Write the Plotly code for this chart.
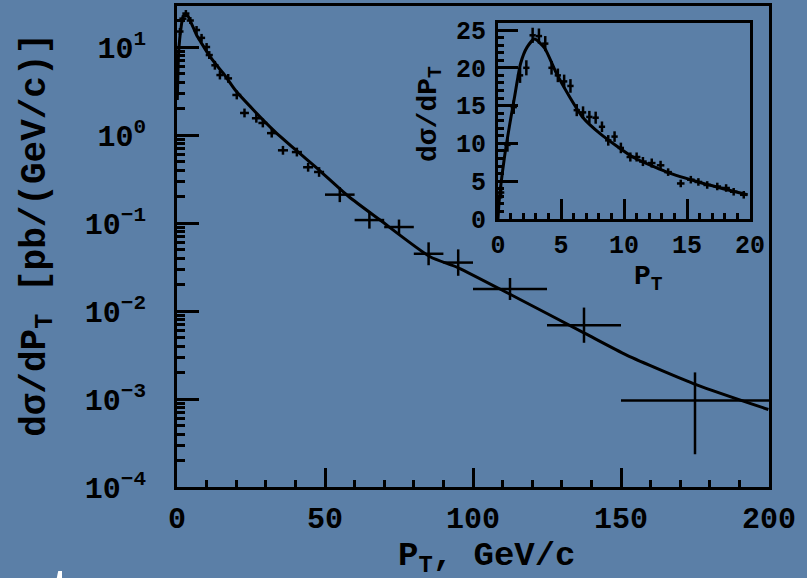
import plotly.graph_objects as go

# ---------------- data ----------------
# Main panel (log scale) measured points
main_pt = [1, 2, 3, 4.5, 6.6, 8.3, 10, 10.9, 12.8, 14.5, 17.3, 20.2, 22.8, 26.8, 29,
           32, 35.8, 40.5, 44.3, 48, 55, 65, 75, 85, 95, 112.5, 137.5, 175]
main_sigma = [15, 21, 24, 20, 15.6, 12.7, 10, 8.1, 6.2, 4.8, 4.4, 2.85, 1.78, 1.55, 1.37,
              1.05, 0.67, 0.64, 0.43, 0.38, 0.21, 0.108, 0.090, 0.0447, 0.0355, 0.0178, 0.0069, 0.00096]
main_pt_err = [1.2, 1.2, 1.2, 1.2, 1.2, 1.2, 1.2, 1.2, 1.2, 1.2, 1.3, 1.5, 1.5, 1.5, 1.5,
               1.6, 1.7, 1.7, 1.7, 1.7, 5, 5, 5, 5, 5, 12.5, 12.5, 25]
# half-length of vertical error bars, in decades (up / down)
main_dec_up = [0.04, 0.04, 0.04, 0.04, 0.045, 0.045, 0.045, 0.045, 0.05, 0.05, 0.05, 0.05, 0.05, 0.05, 0.05,
               0.05, 0.05, 0.05, 0.05, 0.055, 0.085, 0.097, 0.085, 0.13, 0.15, 0.125, 0.2, 0.32]
main_dec_dn = [0.04, 0.04, 0.04, 0.04, 0.045, 0.045, 0.045, 0.045, 0.05, 0.05, 0.05, 0.05, 0.05, 0.05, 0.05,
               0.05, 0.05, 0.05, 0.05, 0.055, 0.085, 0.097, 0.085, 0.13, 0.15, 0.125, 0.2, 0.61]

# Inset panel (linear scale) measured points
inset_pt = [0.25, 0.75, 1.25, 1.75, 2.25, 2.75, 3.25, 3.75, 4.25, 4.75, 5.25, 5.75, 6.25, 6.75,
            7.25, 7.75, 8.25, 8.75, 9.25, 9.75, 10.5, 11.0, 11.5, 12.2, 12.9, 13.5, 14.5, 15.3,
            15.9, 16.6, 17.4, 18.1, 18.7, 19.5]
inset_sigma = [3.5, 9.8, 14.8, 19.0, 20.0, 24.3, 24.2, 23.2, 20.0, 19.0, 18.2, 17.6, 14.4, 14.1,
               13.5, 13.4, 12.2, 10.4, 10.9, 9.4, 8.2, 8.2, 7.6, 7.4, 7.1, 6.2, 4.7, 5.2,
               4.9, 4.5, 4.3, 4.1, 3.6, 3.2]
inset_pt_err = [0.25] * 20 + [0.3] * 14
inset_sigma_err = [0.8, 0.9, 0.9, 1.0, 1.0, 1.0, 1.0, 1.0, 0.9, 0.9, 0.9, 0.9, 0.8, 0.8,
                   0.8, 0.8, 0.7, 0.7, 0.7, 0.7, 0.6, 0.6, 0.6, 0.6, 0.6, 0.5, 0.5, 0.5,
                   0.5, 0.5, 0.5, 0.5, 0.5, 0.5]

# Theory curve
curve_pt = [0.0, 0.1, 0.5, 0.9, 1.3, 1.8, 2.3, 2.9, 3.7, 4.6, 5.7, 6.7, 8.1, 10.7, 13.4, 16.1, 19.8,
            26, 33, 40, 48, 58, 68.6, 85.5, 95, 113, 137.8, 151.9, 175.6, 199.8]
curve_sigma = [0.0, 2.5, 8.0, 12.2, 16.0, 20.6, 22.7, 23.8, 22.6, 19.4, 16.1, 13.5, 11.3, 8.2, 6.2, 4.8, 3.2,
               1.9, 1.1, 0.68, 0.40, 0.20, 0.108, 0.0414, 0.031, 0.0152, 0.00557, 0.00316, 0.00145, 0.00076]

main_y_tickvals = [1e-4, 1e-3, 1e-2, 1e-1, 1e0, 1e1]
main_y_ticktext = ["10<sup>\u22124</sup>", "10<sup>\u22123</sup>", "10<sup>\u22122</sup>",
                   "10<sup>\u22121</sup>", "10<sup>0</sup>", "10<sup>1</sup>"]
main_x_tickvals = [0, 50, 100, 150, 200]
inset_x_tickvals = [0, 5, 10, 15, 20]
inset_y_tickvals = [0, 5, 10, 15, 20, 25]

# ---------------- figure ----------------
BG = "#5b7fa7"
FONT = "Liberation Mono"

plus = [s * (10 ** u - 1) for s, u in zip(main_sigma, main_dec_up)]
minus = [s * (1 - 10 ** (-d)) for s, d in zip(main_sigma, main_dec_dn)]

main_curve_x = [x for x, y in zip(curve_pt, curve_sigma) if y > 0]
main_curve_y = [y for y in curve_sigma if y > 0]
inset_curve_x = [x for x in curve_pt if x <= 20]
inset_curve_y = [y for x, y in zip(curve_pt, curve_sigma) if x <= 20]

fig = go.Figure()
fig.add_trace(go.Scatter(x=main_curve_x, y=main_curve_y, mode="lines",
                         line=dict(color="black", width=3, shape="spline", smoothing=0.6),
                         xaxis="x", yaxis="y", showlegend=False, hoverinfo="skip"))
fig.add_trace(go.Scatter(x=main_pt, y=main_sigma, mode="markers",
                         marker=dict(size=2, color="black", opacity=0),
                         error_x=dict(type="data", array=main_pt_err, color="black", thickness=2.5, width=0),
                         error_y=dict(type="data", array=plus, arrayminus=minus, color="black",
                                      thickness=2.5, width=0),
                         xaxis="x", yaxis="y", showlegend=False))
fig.add_trace(go.Scatter(x=inset_curve_x, y=inset_curve_y, mode="lines",
                         line=dict(color="black", width=3, shape="spline", smoothing=0.6),
                         xaxis="x2", yaxis="y2", showlegend=False, hoverinfo="skip"))
fig.add_trace(go.Scatter(x=inset_pt, y=inset_sigma, mode="markers",
                         marker=dict(size=2, color="black", opacity=0),
                         error_x=dict(type="data", array=inset_pt_err, color="black", thickness=2.5, width=0),
                         error_y=dict(type="data", array=inset_sigma_err, color="black",
                                      thickness=2.5, width=0),
                         xaxis="x2", yaxis="y2", showlegend=False))

axis_common = dict(showline=True, linecolor="black", linewidth=3, mirror=True,
                   ticks="inside", tickcolor="black", tickwidth=3,
                   showgrid=False, zeroline=False, automargin=False)

main_tf = dict(family=FONT, size=30, color="black", weight="bold")
inset_tf = dict(family=FONT, size=25, color="black", weight="bold")

minor_y_vals = [k * 10 ** e for e in range(-4, 2) for k in range(2, 10)]

fig.update_layout(
    width=807, height=578,
    margin=dict(l=177, r=38, t=6, b=91),
    paper_bgcolor=BG, plot_bgcolor=BG,
    xaxis=dict(domain=[0, 1], range=[0, 200], tickmode="array", tickvals=main_x_tickvals,
               ticklen=19, tickfont=main_tf, ticklabelstandoff=2,
               minor=dict(ticks="inside", ticklen=7, tickwidth=2.5, tickcolor="black", dtick=10,
                          showgrid=False),
               **axis_common),
    yaxis=dict(domain=[0, 1], type="log", range=[-4, 1.466], tickmode="array",
               tickvals=main_y_tickvals, ticktext=main_y_ticktext,
               ticklen=22, tickfont=main_tf, ticklabelstandoff=22,
               minor=dict(ticks="inside", ticklen=8, tickwidth=2.5, tickcolor="black",
                          tickmode="array", tickvals=minor_y_vals, showgrid=False),
               **axis_common),
    xaxis2=dict(domain=[0.5422, 0.968], range=[0, 20], anchor="y2", tickmode="array",
                tickvals=inset_x_tickvals, ticklen=20, tickfont=inset_tf, ticklabelstandoff=1,
                minor=dict(ticks="inside", ticklen=6, tickwidth=2.5, tickcolor="black", dtick=1,
                           showgrid=False),
                **axis_common),
    yaxis2=dict(domain=[0.5572, 0.9647], range=[0, 25.93], anchor="x2", tickmode="array",
                tickvals=inset_y_tickvals, ticklen=20, tickfont=inset_tf, ticklabelstandoff=4,
                minor=dict(ticks="inside", ticklen=6, tickwidth=2.5, tickcolor="black", dtick=1,
                           showgrid=False),
                **axis_common),
    annotations=[
        dict(text="P<sub>T</sub>, GeV/c", xref="paper", yref="paper", x=0.524, y=-0.147,
             showarrow=False, xanchor="center", yanchor="middle",
             font=dict(family=FONT, size=34, color="black", weight="bold")),
        dict(text="d\u03c3/dP<sub>T</sub> [pb/(GeV/c)]", xref="paper", yref="paper",
             x=-0.235, y=0.524, textangle=-90, showarrow=False,
             xanchor="center", yanchor="middle",
             font=dict(family=FONT, size=36, color="black", weight="bold")),
        dict(text="d\u03c3/dP<sub>T</sub>", xref="paper", yref="paper",
             x=0.427, y=0.775, textangle=-90, showarrow=False,
             xanchor="center", yanchor="middle",
             font=dict(family=FONT, size=28, color="black", weight="bold")),
        dict(text="P<sub>T</sub>", xref="paper", yref="paper", x=0.796, y=0.4345,
             showarrow=False, xanchor="center", yanchor="middle",
             font=dict(family=FONT, size=28, color="black", weight="bold")),
        dict(text="ature", xref="paper", yref="paper", x=-0.275, y=-0.2155,
             showarrow=False, xanchor="left", yanchor="middle",
             font=dict(family="Liberation Sans", size=64, color="white")),
    ],
)

fig.write_html("out.html", config={"displayModeBar": False},
               post_script="document.body.style.margin='0px';document.body.style.overflow='hidden';")
